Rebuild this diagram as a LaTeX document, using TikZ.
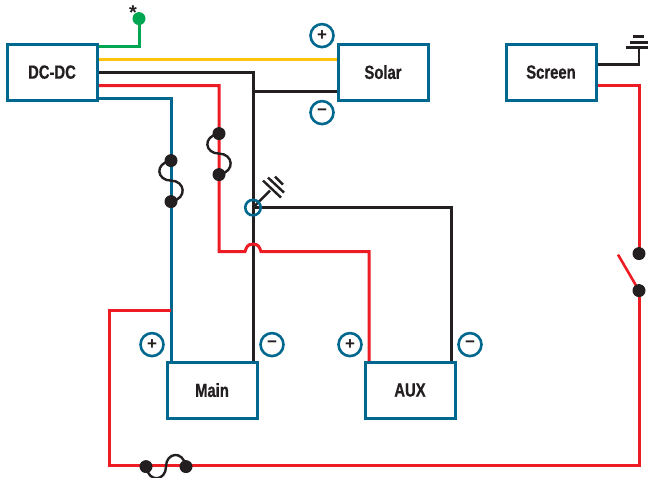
\documentclass[tikz,border=0pt]{standalone}
\usepackage{fontspec}
\newfontfamily\lab[BoldFont={Liberation Sans Bold},BoldFeatures={FakeStretch=0.78,FakeBold=0.6}]{Liberation Sans}
\newfontfamily\signfont{Liberation Sans Bold}
\definecolor{cblue}{HTML}{00688F}
\definecolor{cred}{HTML}{ED1C24}
\definecolor{cyel}{HTML}{FFC20E}
\definecolor{cgrn}{HTML}{00A651}
\definecolor{cblk}{HTML}{231F20}
\tikzset{
 box/.style={draw=cblue,line width=3pt,fill=white,minimum width=90pt,minimum height=56pt,inner sep=0pt,text=cblk,font=\lab\bfseries\fontsize{19}{19}\selectfont},
 wire/.style={line width=3pt,line join=miter},
 sign/.style={circle,draw=cblue,line width=2.6pt,fill=white,minimum size=23pt,inner sep=0pt,text=cblk,font=\signfont\fontsize{17}{17}\selectfont},
 dot/.style={circle,fill=cblk,minimum size=13pt,inner sep=0pt},
 fusewire/.style={line width=2.4pt,draw=cblk},
 gnd/.style={line width=2.4pt,draw=cblk},
}
\begin{document}
\begin{tikzpicture}[x=1pt,y=-1pt]
\useasboundingbox (0,-0.6) rectangle (649,477.4);
% coordinates for wire ends
\coordinate (gE) at (97,46);
\coordinate (gC) at (139,46);
\coordinate (yW) at (97,59);
\coordinate (yE) at (338,59);
\coordinate (kW) at (97,72);
\coordinate (kC) at (253,72);
\coordinate (kS) at (338,91);
\coordinate (kJ) at (253,91);
\coordinate (kM) at (253,362);
\coordinate (rW) at (97,85);
\coordinate (rC) at (219,85);
\coordinate (rD) at (219,251);
\coordinate (hA) at (245,251);
\coordinate (hB) at (261,251);
\coordinate (rR) at (369,251);
\coordinate (rA) at (369,362);
\coordinate (bW) at (97,98);
\coordinate (bC) at (171,98);
\coordinate (bM) at (171,362);
\coordinate (bJ) at (171,310);
\coordinate (lT) at (109,310);
\coordinate (lB) at (109,465);
\coordinate (rB) at (639,465);
\coordinate (scR) at (597,85);
\coordinate (scC) at (639,85);
\coordinate (scK) at (597,64);
\coordinate (scG) at (639,64);
\coordinate (scT) at (639,47);
\coordinate (aT) at (451,207);
\coordinate (aB) at (451,362);
\coordinate (swE) at (618,254);
\coordinate (gndT) at (270,190);
\coordinate (f1m) at (171,180);
\coordinate (f2m) at (219,153);
\coordinate (f3m) at (166,466);
% wires
\draw[wire,cyel] (yW) -- (yE);
\draw[wire,cgrn] (gE) -- (gC) -- (139,18);
\draw[wire,cblue] (bW) -- (bC) -- (bM);
\draw[wire,cred] (bJ) -- (lT) -- (lB) -- (rB) -- (639,290);
\draw[wire,cred] (639,253) -- (scC) -- (scR);
\draw[wire,cred,line width=2.6pt] (639,290) -- (swE);
\draw[wire,cblk] (kW) -- (kC) -- (kM);
\draw[wire,cblk] (kJ) -- (kS);
\draw[wire,cblk] (253,207) -- (aT) -- (aB);
\draw[wire,cred] (rW) -- (rC) -- (rD) -- (hA) .. controls (246.5,247) and (247,243.5) .. (253,243.5) .. controls (259,243.5) and (259.5,247) .. (hB) -- (rR) -- (rA);
\draw[wire,cblk,line width=2.6pt] (scK) -- (scG) -- (scT);
% grounds
\draw[gnd] (253,207) -- (gndT);
\draw[gnd] (263,180) -- (281,197);
\draw[gnd] (268,177) -- (284,192);
\draw[gnd] (275,176) -- (283,184);
\draw[gnd] (626,47) -- (648,47);
\draw[gnd] (630,42) -- (648,42);
\draw[gnd] (633,36) -- (644,36);
% junction ring
\node[circle,draw=cblue,line width=2.6pt,minimum size=15.5pt,inner sep=0pt] (ring) at (253,207) {};
% boxes
\node[box] (dcdc) at (52,71.5) {DC-DC};
\node[box] (solar) at (383,71.5) {Solar};
\node[box] (screen) at (551,71.5) {Screen};
\node[box] (main) at (212,389.5) {Main};
\node[box] (aux) at (410,389.5) {AUX};
% signs
\node[sign] (sp) at (322,35) {+};
\node[sign] (sm) at (322,112) {−};
\node[sign] (mp) at (152,344) {+};
\node[sign] (mm) at (272,344) {−};
\node[sign] (ap) at (350,344) {+};
\node[sign] (am) at (470,344) {−};
% dots
\node[circle,fill=cgrn,minimum size=13pt,inner sep=0pt] (gd) at (139,18) {};
\node[font=\signfont\fontsize{20}{20}\selectfont,text=cblk,inner sep=0pt] (star) at (133,12) {*};
\node[dot] (f1a) at (171,160) {};
\node[dot] (f1b) at (171,201) {};
\node[dot] (f2a) at (219,133) {};
\node[dot] (f2b) at (219,174) {};
\node[dot] (f3a) at (146,466) {};
\node[dot] (f3b) at (186,466) {};
\node[dot] (swa) at (639,253) {};
\node[dot] (swb) at (639,290) {};
% fuses
\draw[fusewire] (f1a.center) .. controls +(-17,3) and +(-14,0) .. (f1m) .. controls +(14,0) and +(17,-3) .. (f1b.center);
\draw[fusewire] (f2a.center) .. controls +(-17,3) and +(-14,0) .. (f2m) .. controls +(14,0) and +(17,-3) .. (f2b.center);
\draw[fusewire] (f3a.center) .. controls +(3,17) and +(0,14) .. (f3m) .. controls +(0,-14) and +(-3,-17) .. (f3b.center);
\end{tikzpicture}
\end{document}
